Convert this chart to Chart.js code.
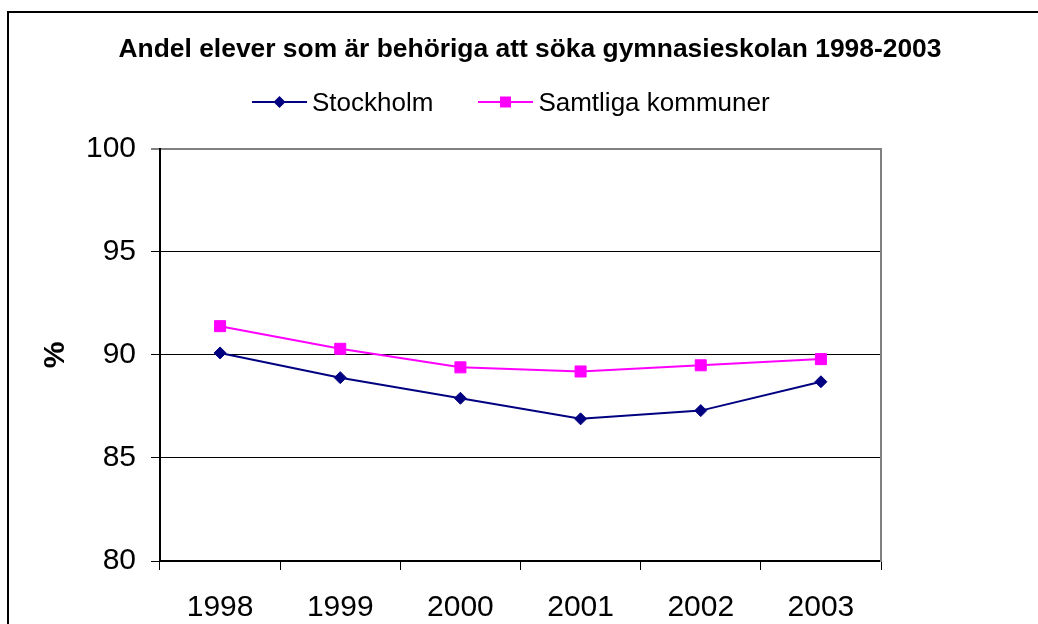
<!DOCTYPE html>
<html lang="sv">
<head>
<meta charset="utf-8">
<title>Andel elever som är behöriga att söka gymnasieskolan 1998-2003</title>
<script src="https://cdn.jsdelivr.net/npm/chart.js@4.4.1/dist/chart.umd.min.js"></script>
<style>
  html, body { margin: 0; padding: 0; background: #fff; overflow: hidden; }
  body { position: relative; width: 1038px; height: 624px; font-family: 'Liberation Sans', Arial, sans-serif; }
  #chart-wrap { position: absolute; left: 0; top: 0; width: 1060px; height: 624px; }
  .legend { position: absolute; left: 252px; top: 87px; display: flex; align-items: center; font-size: 26px; line-height: 30px; color: #000; white-space: nowrap; z-index: 2; }
  .legend-item { display: flex; align-items: center; }
  .legend-item + .legend-item { margin-left: 45px; }
  .legend-item svg { display: block; margin-right: 5px; }
</style>
</head>
<body>
<div id="chart-wrap"><canvas id="chart" width="1060" height="624"></canvas></div>
<div class="legend" id="legend"></div>

<script>
(function () {
  'use strict';

  var TITLE = 'Andel elever som är behöriga att söka gymnasieskolan 1998-2003';
  var YEARS = ['1998', '1999', '2000', '2001', '2002', '2003'];
  var SERIES_NAMES = ['Stockholm', 'Samtliga kommuner'];
  var STOCKHOLM = [90.1, 88.9, 87.9, 86.9, 87.3, 88.7];
  var SAMTLIGA = [91.4, 90.3, 89.4, 89.2, 89.5, 89.8];
  var Y_MIN = 80;
  var Y_MAX = 100;
  var Y_STEP = 5;

  var FONT = "'Liberation Sans', Arial, sans-serif";
  var NAVY = '#000080';
  var MAGENTA = '#ff00ff';
  var FRAME_GREY = '#808080';

  // ytterram runt hela diagrammet (höger/nederkant ligger utanför bilden)
  var outerFrame = {
    id: 'outerFrame',
    beforeDraw: function (chart) {
      var ctx = chart.ctx;
      ctx.save();
      ctx.strokeStyle = '#000';
      ctx.lineWidth = 2;
      ctx.strokeRect(8, 12, chart.width + 40, chart.height + 40);
      ctx.restore();
    }
  };

  function legendSymbol(ds) {
    var c = ds.borderColor;
    var marker = ds.pointStyle === 'rectRot'
      ? '<polygon points="27.5,1 33.5,7 27.5,13 21.5,7" fill="' + c + '"/>'
      : '<rect x="22" y="1.5" width="11" height="11" fill="' + c + '"/>';
    return '<svg width="55" height="14" viewBox="0 0 55 14">' +
      '<line x1="0" y1="7" x2="55" y2="7" stroke="' + c + '" stroke-width="2"/>' + marker + '</svg>';
  }

  function buildLegend(chart) {
    var box = document.getElementById('legend');
    box.innerHTML = '';
    chart.data.datasets.forEach(function (ds) {
      var item = document.createElement('div');
      item.className = 'legend-item';
      item.innerHTML = legendSymbol(ds) + '<span>' + ds.label + '</span>';
      box.appendChild(item);
    });
  }

  var ctx = document.getElementById('chart');
  var chart = new Chart(ctx, {
    type: 'line',
    data: {
      labels: YEARS,
      datasets: [{
        label: SERIES_NAMES[0],
        data: STOCKHOLM,
        borderColor: NAVY,
        backgroundColor: NAVY,
        borderWidth: 2,
        pointStyle: 'rectRot',
        pointRadius: 6,
        pointBorderWidth: 1,
        tension: 0
      }, {
        label: SERIES_NAMES[1],
        data: SAMTLIGA,
        borderColor: MAGENTA,
        backgroundColor: MAGENTA,
        borderWidth: 2,
        pointStyle: 'rect',
        pointRadius: 7.8,
        pointBorderWidth: 1,
        tension: 0
      }]
    },
    options: {
      responsive: false,
      animation: false,
      events: [],
      layout: { padding: 0 },
      plugins: {
        legend: { display: false },
        tooltip: { enabled: false },
        title: {
          display: true,
          text: TITLE,
          color: '#000',
          font: { family: FONT, size: 26.4, weight: 'bold' },
          padding: { top: 34, bottom: 83.3 }
        }
      },
      scales: {
        x: {
          offset: true,
          grid: { offset: true, drawOnChartArea: false, color: '#000', tickLength: 9 },
          border: { color: '#000', width: 2 },
          ticks: { color: '#000', font: { family: FONT, size: 30 }, padding: 20, maxRotation: 0, autoSkip: false },
          afterFit: function (scale) { scale.height = 63; }
        },
        y: {
          min: Y_MIN,
          max: Y_MAX,
          ticks: { stepSize: Y_STEP, color: '#000', font: { family: FONT, size: 30 }, padding: 15 },
          grid: {
            color: function (c) { return c.tick && c.tick.value === Y_MAX ? FRAME_GREY : '#000'; },
            lineWidth: function (c) { return c.tick && c.tick.value === Y_MAX ? 2 : 1; },
            tickColor: '#000',
            tickWidth: 1,
            tickLength: 9
          },
          border: { color: '#000', width: 2 },
          title: {
            display: true,
            text: '%',
            color: '#000',
            font: { family: FONT, size: 30, weight: 'bold' },
            padding: { top: 38, bottom: 0 }
          },
          afterFit: function (scale) { scale.width = 160; }
        },
        // bara för plotytans grå högerkant
        y2: {
          position: 'right',
          min: Y_MIN,
          max: Y_MAX,
          grid: { display: false },
          ticks: { display: false },
          border: { color: FRAME_GREY, width: 2 },
          afterFit: function (scale) { scale.width = 179; }
        }
      }
    },
    plugins: [outerFrame]
  });

  buildLegend(chart);
})();
</script>
</body>
</html>
